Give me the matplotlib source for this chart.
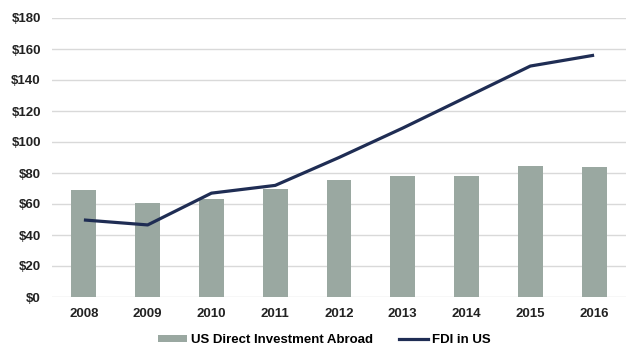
import matplotlib
matplotlib.use("Agg")
import matplotlib.pyplot as plt
from matplotlib.patches import Patch
from matplotlib.lines import Line2D

years = ["2008", "2009", "2010", "2011", "2012", "2013", "2014", "2015", "2016"]
us_direct_abroad = [69, 60.7, 63.2, 69.7, 75.5, 78, 78, 84.5, 84]
fdi_in_us = [49.7, 46.5, 67, 72, 90, 109, 129, 149, 156]
yticks = [0, 20, 40, 60, 80, 100, 120, 140, 160, 180]

bar_color = "#9AA8A1"
line_color = "#1F2D54"

plt.rcParams['font.family'] = ['Liberation Sans', 'DejaVu Sans']

fig = plt.figure(figsize=(6.36, 3.63), dpi=100)
ax = fig.add_axes([52/636, 1-297/363, (626-52)/636, (297-18)/363])

x = list(range(len(years)))
ax.bar(x, us_direct_abroad, width=0.39, color=bar_color, zorder=2)
ax.plot(x, fdi_in_us, color=line_color, linewidth=2.3, zorder=3, solid_capstyle='butt')

ax.set_xlim(-0.5, len(years)-0.5)
ax.set_ylim(0, 180)
ax.set_yticks(yticks)
ax.set_yticklabels([f"${v}" for v in yticks], fontsize=9.5, fontweight='bold', color='#222222')
ax.set_xticks(x)
ax.set_xticklabels(years, fontsize=9.5, fontweight='bold', color='#222222')
ax.tick_params(length=0)
ax.tick_params(axis='x', pad=8)
ax.tick_params(axis='y', pad=8)
ax.yaxis.grid(True, color='#D9D9D9', linewidth=1, zorder=0)
ax.set_axisbelow(True)
for s in ax.spines.values():
    s.set_visible(False)

handles = [Patch(facecolor=bar_color, edgecolor='none'),
           Line2D([0], [0], color=line_color, linewidth=2.3)]
fig.legend(handles, ["US Direct Investment Abroad", "FDI in US"],
           loc='center', bbox_to_anchor=(0.51, 1-340/363), ncol=2, frameon=False,
           prop={'size': 9.5, 'weight': 'bold'}, handlelength=2.2, handleheight=0.5,
           handletextpad=0.3, columnspacing=2.0)

fig.savefig("out.png", dpi=100)
